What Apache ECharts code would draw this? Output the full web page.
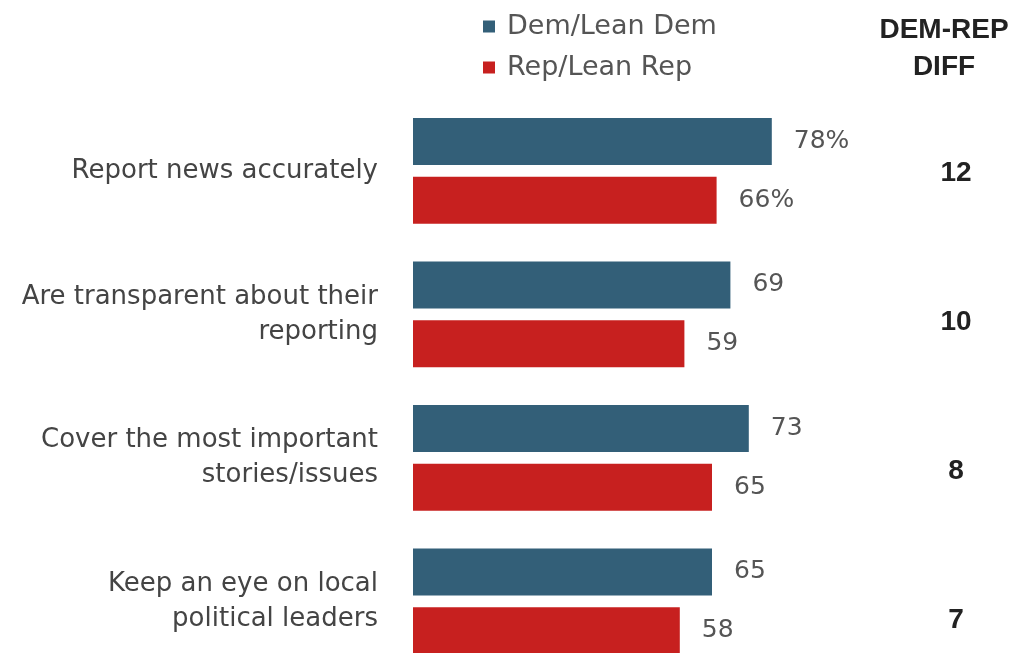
<!DOCTYPE html>
<html>
<head>
<meta charset="utf-8">
<script src="https://cdn.jsdelivr.net/npm/echarts@6/dist/echarts.min.js"></script>
<style>
  html, body { margin: 0; padding: 0; background: #fff; }
  #chart { width: 1020px; height: 653px; }
</style>
</head>
<body>
<div id="chart"></div>
<script>
// data
const categories = [
  "Report news accurately",
  "Are transparent about their\nreporting",
  "Cover the most important\nstories/issues",
  "Keep an eye on local\npolitical leaders"
];
const demValues = [78, 69, 73, 65];
const repValues = [66, 59, 65, 58];
const diffValues = [12, 10, 8, 7];
const seriesNames = ["Dem/Lean Dem", "Rep/Lean Rep"];

const FONT = "DejaVu Sans";
const BOLD_FONT = "Liberation Sans";
const chart = echarts.init(document.getElementById("chart"));

// first row carries the % sign
const valueLabel = p => (p.dataIndex === 0 ? p.value + "%" : "" + p.value);

const option = {
  animation: false,
  color: ["#335f78", "#c7201f"],
  title: {
    text: "DEM-REP\nDIFF",
    left: 944,
    top: 12,
    padding: 0,
    textAlign: "center",
    textStyle: {
      fontFamily: BOLD_FONT,
      fontSize: 28,
      fontWeight: "bold",
      lineHeight: 37,
      color: "#222"
    }
  },
  legend: {
    orient: "vertical",
    left: 483,
    top: 13,
    padding: 0,
    itemWidth: 12,
    itemHeight: 12,
    itemGap: 14,
    icon: "rect",
    data: seriesNames,
    textStyle: { fontFamily: FONT, fontSize: 27, color: "#555", padding: [0, 0, 0, 7] }
  },
  grid: [
    { left: 413, top: 99, width: 460, height: 574, outerBoundsMode: "none" },
    // diff column sits on its own, slightly wider-spaced rows
    { left: 956, top: 99, width: 10, height: 596, outerBoundsMode: "none" }
  ],
  xAxis: [
    { type: "value", min: 0, max: 100, show: false, gridIndex: 0 },
    { type: "value", min: 0, max: 1, show: false, gridIndex: 1 }
  ],
  yAxis: [
    {
      type: "category",
      gridIndex: 0,
      inverse: true,
      data: categories,
      axisLine: { show: false },
      axisTick: { show: false },
      axisLabel: {
        margin: 35,
        fontFamily: FONT,
        fontSize: 26,
        lineHeight: 35,
        color: "#444",
        align: "right"
      }
    },
    {
      type: "category",
      gridIndex: 1,
      inverse: true,
      data: diffValues.map(String),
      axisLine: { show: false },
      axisTick: { show: false },
      axisLabel: {
        margin: 0,
        align: "center",
        fontFamily: BOLD_FONT,
        fontSize: 28,
        fontWeight: "bold",
        color: "#222"
      }
    }
  ],
  series: [
    {
      name: seriesNames[0],
      type: "bar",
      data: demValues,
      barWidth: 47,
      barGap: "25%",
      label: {
        show: true,
        position: "right",
        distance: 22,
        formatter: valueLabel,
        fontFamily: FONT,
        fontSize: 25,
        color: "#555"
      }
    },
    {
      name: seriesNames[1],
      type: "bar",
      data: repValues,
      barWidth: 47,
      barGap: "25%",
      label: {
        show: true,
        position: "right",
        distance: 22,
        formatter: valueLabel,
        fontFamily: FONT,
        fontSize: 25,
        color: "#555"
      }
    }
  ]
};

chart.setOption(option);
</script>
</body>
</html>
